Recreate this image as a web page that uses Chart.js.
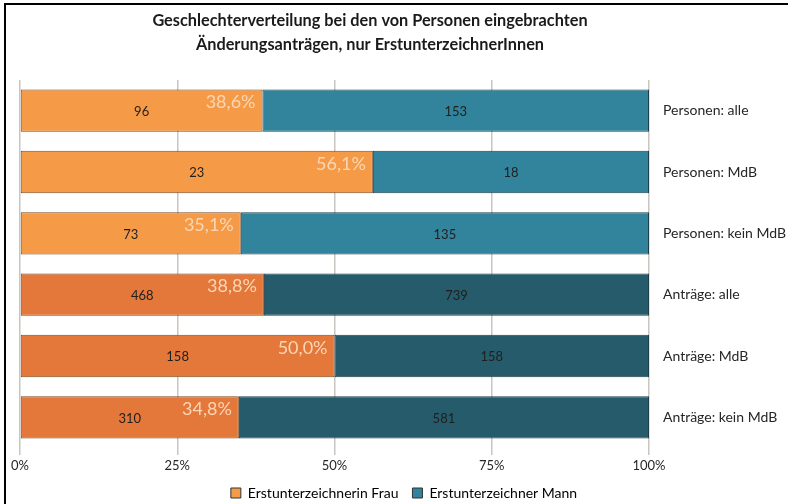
<!DOCTYPE html>
<html>
<head>
<meta charset="utf-8">
<script src="https://cdn.jsdelivr.net/npm/chart.js@4"></script>
<style>
  html, body { margin: 0; padding: 0; background: #fff; }
  #wrap { width: 788px; height: 504px; position: relative; }
</style>
</head>
<body>
<div id="wrap"><canvas id="chart"></canvas></div>
<script>
const categories = ['Personen: alle', 'Personen: MdB', 'Personen: kein MdB', 'Anträge: alle', 'Anträge: MdB', 'Anträge: kein MdB'];
const frauen = [96, 23, 73, 468, 158, 310];
const maenner = [153, 18, 135, 739, 158, 581];
const xTicks = [0, 25, 50, 75, 100];
const titleLines = ['Geschlechterverteilung bei den von Personen eingebrachten', 'Änderungsanträgen, nur ErstunterzeichnerInnen'];
const seriesNames = ['Erstunterzeichnerin Frau', 'Erstunterzeichner Mann'];

const FONT = 'Lato, "Open Sans", sans-serif';
const orangeLight = '#F59B47', orangeDark = '#E4773A';
const tealLight = '#31849B', tealDark = '#255B6A';

const totals = frauen.map((f, i) => f + maenner[i]);
const frauPct = frauen.map((f, i) => f / totals[i] * 100);
const mannPct = maenner.map((m, i) => m / totals[i] * 100);

const frauColors = categories.map((c, i) => i < 3 ? orangeLight : orangeDark);
const mannColors = categories.map((c, i) => i < 3 ? tealLight : tealDark);

const framePlugin = {
  id: 'frame',
  beforeDraw(chart) {
    const ctx = chart.ctx;
    ctx.save();
    ctx.fillStyle = '#fff';
    ctx.fillRect(0, 0, chart.width, chart.height);
    ctx.strokeStyle = '#000';
    ctx.lineWidth = 2;
    ctx.beginPath();
    ctx.moveTo(5, chart.height);
    ctx.lineTo(5, 4);
    ctx.lineTo(chart.width, 4);
    ctx.stroke();
    // title
    ctx.fillStyle = '#1a1a1a';
    ctx.font = 'bold 16.3px ' + FONT;
    ctx.textAlign = 'center';
    ctx.textBaseline = 'middle';
    titleLines.forEach((t, i) => ctx.fillText(t, 370, 21 + i * 24));
    ctx.restore();
  },
  afterDatasetsDraw(chart) {
    const ctx = chart.ctx;
    const m0 = chart.getDatasetMeta(0);
    const m1 = chart.getDatasetMeta(1);
    ctx.save();
    ctx.textBaseline = 'middle';
    m0.data.forEach((bar, i) => {
      const b1 = m1.data[i];
      const top = bar.y - bar.height / 2;
      ctx.textAlign = 'center';
      ctx.font = '13px ' + FONT;
      ctx.fillStyle = '#1f1f1f';
      ctx.fillText(String(frauen[i]), (bar.base + bar.x) / 2, bar.y + 1);
      ctx.fillText(String(maenner[i]), (b1.base + b1.x) / 2, b1.y + 1);
      ctx.font = '18px ' + FONT;
      ctx.fillStyle = '#FCD6B4';
      ctx.textAlign = 'right';
      ctx.fillText(frauPct[i].toFixed(1).replace('.', ',') + '%', bar.x - 7, top + 13);
    });
    ctx.restore();
  }
};

new Chart(document.getElementById('chart'), {
  type: 'bar',
  data: {
    labels: categories,
    datasets: [
      { label: seriesNames[0], data: frauPct, backgroundColor: frauColors, borderColor: '#7a4a20', borderWidth: 1, borderSkipped: false },
      { label: seriesNames[1], data: mannPct, backgroundColor: mannColors, borderColor: '#1d3f4a', borderWidth: 1, borderSkipped: false }
    ]
  },
  options: {
    indexAxis: 'y',
    responsive: true,
    maintainAspectRatio: false,
    animation: false,
    datasets: { bar: { barPercentage: 0.69, categoryPercentage: 1 } },
    layout: { padding: { top: 80, left: 20, right: 0, bottom: -6 } },
    scales: {
      x: {
        stacked: true,
        min: 0,
        max: 100,
        afterBuildTicks: (axis) => { axis.ticks = xTicks.map(v => ({ value: v })); },
        afterFit: (axis) => { axis.height = 24; },
        ticks: { color: '#262626', font: { family: FONT, size: 13 }, padding: 3, callback: v => v + '%' },
        grid: { color: '#C9C5C0', lineWidth: 1.5, tickLength: 7, drawOnChartArea: true },
        border: { display: false }
      },
      y: {
        stacked: true,
        position: 'right',
        afterFit: (axis) => { axis.width = 139; },
        ticks: { color: '#262626', font: { family: FONT, size: 14 }, padding: 6 },
        grid: { display: false },
        border: { display: false }
      }
    },
    plugins: {
      legend: {
        position: 'bottom',
        labels: {
          boxWidth: 10,
          boxHeight: 10,
          padding: 14,
          color: '#262626',
          font: { family: FONT, size: 14 },
          generateLabels: () => [
            { text: seriesNames[0], fillStyle: orangeLight, strokeStyle: '#333', lineWidth: 1, datasetIndex: 0 },
            { text: seriesNames[1], fillStyle: tealLight, strokeStyle: '#333', lineWidth: 1, datasetIndex: 1 }
          ]
        }
      },
      title: { display: false },
      tooltip: { enabled: false }
    }
  },
  plugins: [framePlugin]
});
</script>
</body>
</html>
